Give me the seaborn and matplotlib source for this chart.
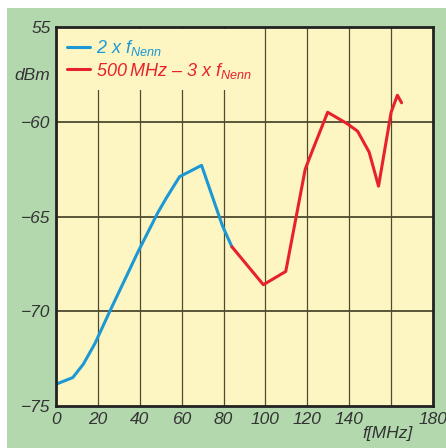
import matplotlib
matplotlib.use("Agg")
import matplotlib.pyplot as plt
import seaborn as sns
import pandas as pd
from matplotlib.patches import Rectangle

# Data
blue_f = [0, 8, 13, 18.6, 25.7, 39, 48.6, 52.8, 59, 69.5, 79.5, 84]
blue_db = [-73.85, -73.5, -72.8, -71.7, -70.0, -66.9, -64.8, -64.0, -62.9, -62.3, -65.5, -66.6]
red_f = [84, 99, 109.7, 119, 122.5, 129.7, 139, 144, 149.5, 154, 160, 163, 165]
red_db = [-66.6, -68.6, -67.9, -62.5, -61.5, -59.5, -60.1, -60.5, -61.6, -63.4, -59.5, -58.6, -59.0]
x_ticks = [0, 20, 40, 60, 80, 100, 120, 140, 180]
x_ticklabels = ["0", "20", "40", "60", "80", "100", "120", "140", "180"]
y_ticks = [-55, -57.5, -60, -65, -70, -75]
y_ticklabels = ["55", "dBm", "\u221260", "\u221265", "\u221270", "\u221275"]
label_blue = "2 x $f_{Nenn}$"
label_red = "500\u2009MHz \u2013 3 x $f_{Nenn}$"

sns.set_style("white")
plt.rcParams["font.family"] = ["Liberation Sans", "DejaVu Sans"]
plt.rcParams["mathtext.fontset"] = "custom"
plt.rcParams["mathtext.it"] = "Liberation Sans:italic"
plt.rcParams["mathtext.rm"] = "Liberation Sans:italic"

GREEN = "#b3d8ae"
YELLOW = "#fdf6c3"
GRID = "#4f4a30"
BLUE = "#1b98d5"
RED = "#e8222c"
TXT = "#333333"

fig = plt.figure(figsize=(4.46, 4.48), dpi=100)
fig.patch.set_facecolor("white")
fig.add_artist(Rectangle((7 / 446, 0), 1 - 7 / 446, 1 - 8 / 448,
                         transform=fig.transFigure, facecolor=GREEN,
                         edgecolor="none", zorder=0))

ax = fig.add_axes([56 / 446, 1 - 406 / 448, (433 - 56) / 446, (406 - 27) / 448])
ax.set_facecolor(YELLOW)

df_b = pd.DataFrame({"f": blue_f, "dB": blue_db, "s": label_blue})
df_r = pd.DataFrame({"f": red_f, "dB": red_db, "s": label_red})
df = pd.concat([df_b, df_r], ignore_index=True)
sns.lineplot(data=df, x="f", y="dB", hue="s", palette=[BLUE, RED],
             estimator=None, sort=False, lw=2.2, ax=ax, zorder=5)

ax.set_xlim(0, 180)
ax.set_ylim(-75, -55)

for xv in [20, 40, 60, 80, 100, 120, 140, 160]:
    ax.axvline(xv, color=GRID, lw=0.9, zorder=1)
for yv in [-60, -65, -70]:
    ax.axhline(yv, color=GRID, lw=1.3, zorder=1)

for s in ax.spines.values():
    s.set_color("#222222")
    s.set_linewidth(2)
    s.set_zorder(10)

ax.set_xticks(x_ticks)
ax.set_xticklabels(x_ticklabels, fontstyle="italic", fontsize=12.5, color=TXT)
ax.set_yticks(y_ticks)
ax.set_yticklabels(y_ticklabels, fontstyle="italic", fontsize=12.5, color=TXT)
ax.tick_params(length=0, pad=4)
ax.set_xlabel("")
ax.set_ylabel("")

fig.text(413 / 446, 1 - 433 / 448, "f[MHz]", fontstyle="italic", fontsize=12.5,
         color=TXT, ha="right", va="center")

leg = ax.legend(loc="upper left", frameon=True, facecolor=YELLOW, edgecolor="none",
                framealpha=1, fontsize=13, handlelength=1.3, handletextpad=0.3,
                borderpad=0.5, labelspacing=0.15, borderaxespad=0.1)
leg.set_zorder(3)
leg.set_title(None)
for t, c in zip(leg.get_texts(), [BLUE, RED]):
    t.set_color(c)
    t.set_fontstyle("italic")

fig.savefig("out.png", dpi=100, facecolor=fig.get_facecolor())
